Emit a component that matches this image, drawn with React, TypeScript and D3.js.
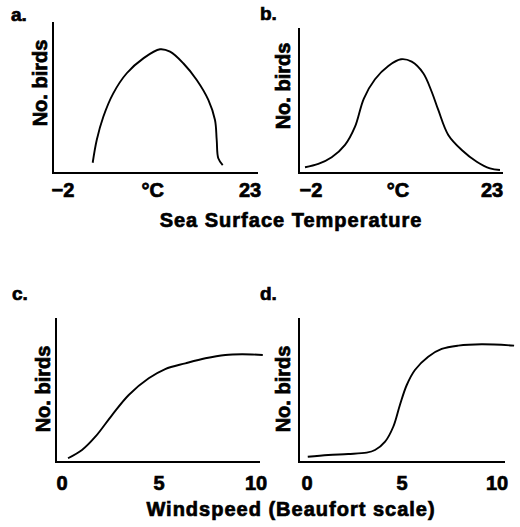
import React from 'react';
import * as d3 from 'd3';

const W = 520;
const H = 527;

// temperature panels (a, b): [°C, relative number of birds]
const tempTicks = [-2, 10, 23];
const tempTickLabels = ['\u22122', '°C', '23'];

const curveA: [number, number][] = [
  [1.97, 7.7], [2.51, 24.8], [3.39, 42.3], [4.72, 59.9], [6.52, 75],
  [8.74, 86.2], [10.97, 93], [12.31, 91.2], [14.08, 82.5], [15.88, 69.9],
  [17.43, 54.9], [18.32, 39.8], [18.55, 24.8], [18.76, 11.1], [19.35, 6],
];

const curveB: [number, number][] = [
  [-2.83, 4.3], [-0.99, 6.8], [0.86, 11.8], [2.7, 21.1], [4.08, 34.8],
  [5.3, 56], [6.84, 70.5], [8.68, 80.5], [10.43, 85.5], [11.91, 83.7],
  [13.51, 75], [14.67, 61.1], [15.58, 47.4], [16.96, 28.6], [18.82, 17.3],
  [20.89, 8.5], [22.72, 3.5], [24.1, 2.3],
];

// windspeed panels (c, d): [Beaufort, relative number of birds]
const windTicks = [0, 5, 10];
const windTickLabels = ['0', '5', '10'];

const curveC: [number, number][] = [
  [0.31, 2.8], [1.03, 9], [1.72, 19], [2.58, 35.3], [3.44, 50.4],
  [4.47, 62.9], [5.32, 69.9], [6.36, 74.2], [7.39, 78], [8.42, 80.5],
  [9.28, 81], [10.35, 80.5],
];

const curveD: [number, number][] = [
  [0.04, 4], [1.12, 5.3], [2.17, 6], [3.14, 7], [3.58, 9], [4.11, 15.3],
  [4.54, 26.5], [4.89, 42.9], [5.25, 57.9], [5.68, 69.2], [6.38, 79.2],
  [7.09, 85], [7.96, 87.5], [9.19, 88.5], [10.9, 87.5],
];

const font = '"Liberation Sans", Arial, Helvetica, sans-serif';
const heavy = { fontWeight: 'bold' as const, stroke: '#000', strokeWidth: 0.7 };

type PanelProps = {
  letter: string;
  letterX: number;
  letterY: number;
  axisX: number;
  axisY: number;
  axisTop: number;
  axisRight: number;
  domain: [number, number];
  range: [number, number];
  yTop: number;
  ticks: number[];
  tickLabels: string[];
  tickY: number;
  labelX: number;
  labelY: number;
  data: [number, number][];
};

function Panel(p: PanelProps) {
  const x = d3.scaleLinear().domain(p.domain).range(p.range);
  const y = d3.scaleLinear().domain([0, 100]).range([p.axisY, p.yTop]);
  const line = d3
    .line<[number, number]>()
    .x((d) => x(d[0]))
    .y((d) => y(d[1]))
    .curve(d3.curveCatmullRom.alpha(0.5));

  return (
    <g>
      <text x={p.letterX} y={p.letterY} fontSize={19} {...heavy}>{p.letter}</text>
      <line x1={p.axisX} x2={p.axisX} y1={p.axisTop} y2={p.axisY + 1}
        stroke="#000" strokeWidth={2} />
      <line x1={p.axisX - 1} x2={p.axisRight} y1={p.axisY} y2={p.axisY}
        stroke="#000" strokeWidth={2.2} />
      <path d={line(p.data) || ''} fill="none" stroke="#000" strokeWidth={1.9} />
      {p.ticks.map((t, i) => (
        <text key={i} x={x(t)} y={p.tickY} textAnchor="middle" fontSize={20}
          {...heavy}>{p.tickLabels[i]}</text>
      ))}
      <text transform={`translate(${p.labelX},${p.labelY}) rotate(-90)`}
        textAnchor="middle" dominantBaseline="central" fontSize={20}
        {...heavy}>No. birds</text>
    </g>
  );
}

export default function App() {
  return (
    <svg width={W} height={H} fontFamily={font}
      style={{ position: 'absolute', left: 0, top: 0, background: '#fff' }}>
      <rect width={W} height={H} fill="#fff" />
      <Panel letter="a." letterX={11} letterY={21} axisX={53} axisY={173}
        axisTop={22} axisRight={258} domain={[-2, 23]} range={[63, 250]}
        yTop={40} ticks={tempTicks} tickLabels={tempTickLabels} tickY={197}
        labelX={40} labelY={83} data={curveA} />
      <Panel letter="b." letterX={260} letterY={20} axisX={299} axisY={173}
        axisTop={28} axisRight={503} domain={[-2, 23]} range={[311, 492]}
        yTop={40} ticks={tempTicks} tickLabels={tempTickLabels} tickY={197}
        labelX={283} labelY={86} data={curveB} />
      <Panel letter="c." letterX={12} letterY={300} axisX={56} axisY={462}
        axisTop={318} axisRight={260} domain={[0, 10]} range={[62, 256]}
        yTop={329} ticks={windTicks} tickLabels={windTickLabels} tickY={490}
        labelX={43} labelY={389} data={curveC} />
      <Panel letter="d." letterX={260} letterY={300} axisX={299} axisY={462}
        axisTop={318} axisRight={505} domain={[0, 10]} range={[307, 497]}
        yTop={329} ticks={windTicks} tickLabels={windTickLabels} tickY={490}
        labelX={283} labelY={389} data={curveD} />
      <text x={291} y={227} textAnchor="middle" fontSize={20}
        letterSpacing={1} {...heavy}>Sea Surface Temperature</text>
      <text x={291} y={516} textAnchor="middle" fontSize={20}
        letterSpacing={1} {...heavy}>Windspeed (Beaufort scale)</text>
    </svg>
  );
}
